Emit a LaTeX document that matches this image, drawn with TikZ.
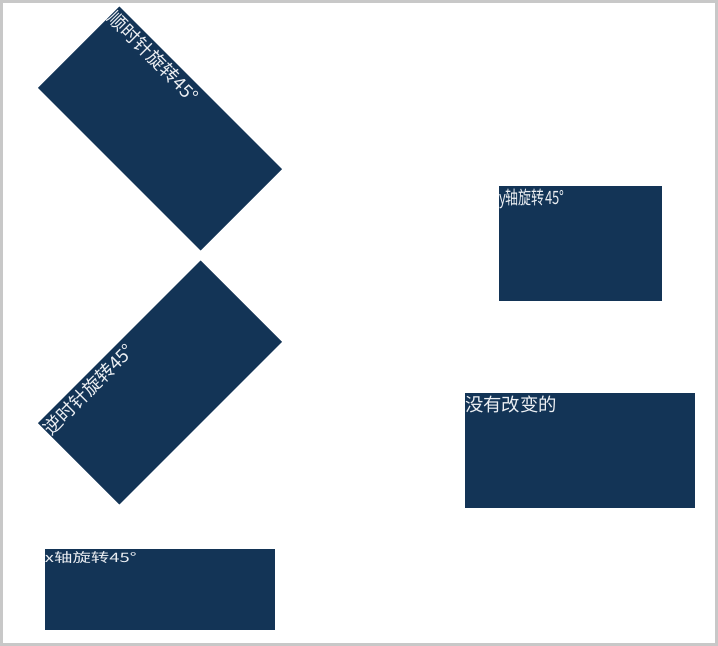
\documentclass[tikz,border=0pt]{standalone}
\usepackage{fontspec}
\newfontfamily\cjk{Noto Sans CJK SC}
\definecolor{boxblue}{RGB}{19,52,86}
\definecolor{labelwhite}{RGB}{236,239,243}
\definecolor{framegray}{RGB}{200,200,200}

\begin{document}
\begin{tikzpicture}[x=0.75pt, y=-0.75pt,
  demobox/.style={fill=boxblue, inner sep=0pt, minimum width=172.5pt, minimum height=86.25pt},
  boxlabel/.style={text=labelwhite, inner xsep=0pt, inner ysep=2.5pt, anchor=north west,
    font=\cjk\fontsize{13.8pt}{16pt}\selectfont}]
  \useasboundingbox (0,0) rectangle (718,646);
  \fill[framegray] (0,0) rectangle (718,646);
  \fill[white] (3,3) rectangle (715,643);

  % rotated boxes
  \node[demobox, rotate=-45] (cw) at (160,128.5) {};
  \node[boxlabel, rotate=-45] (cwlabel) at (cw.north west) {顺时针旋转45°};
  \node[demobox, rotate=45] (ccw) at (160,382.5) {};
  \node[boxlabel, rotate=45] (ccwlabel) at (ccw.north west) {逆时针旋转45°};

  % boxes turned about an axis
  \node[demobox, xscale=0.707] (roty) at (580.5,243) {};
  \node[boxlabel, xscale=0.707] (rotylabel) at (roty.north west) {y轴旋转45°};
  \node[demobox, yscale=0.707] (rotx) at (160,589.5) {};
  \node[boxlabel, yscale=0.707] (rotxlabel) at (rotx.north west) {x轴旋转45°};

  % plain box
  \node[demobox] (plain) at (580,450.5) {};
  \node[boxlabel] (plainlabel) at (plain.north west) {没有改变的};
\end{tikzpicture}
\end{document}
